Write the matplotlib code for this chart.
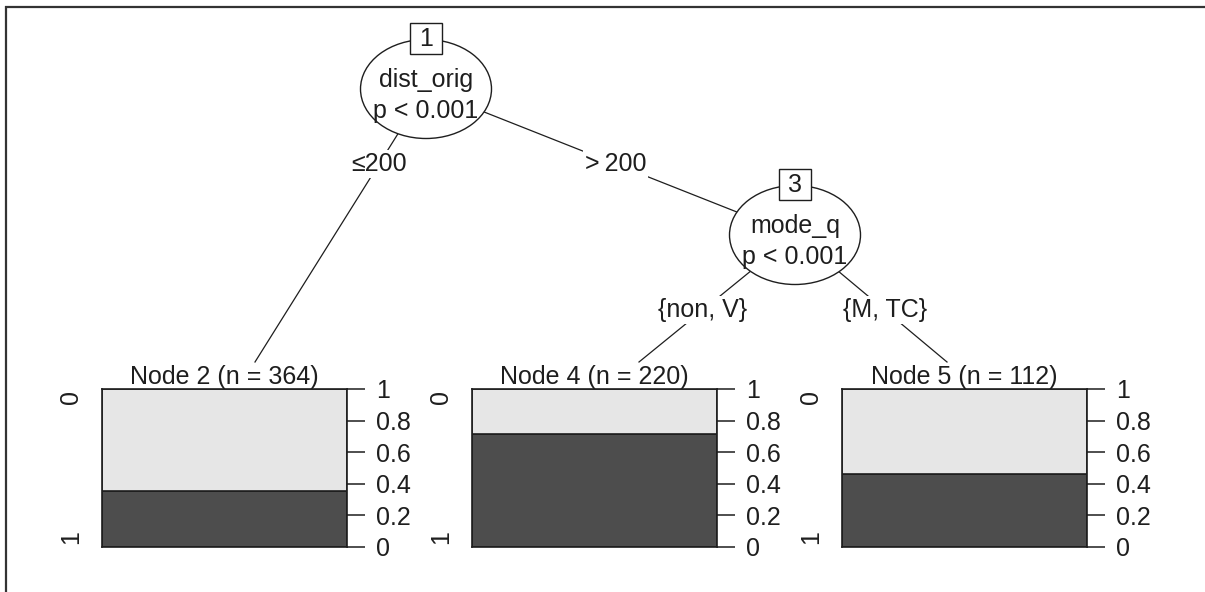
import matplotlib
matplotlib.use('Agg')
import matplotlib.pyplot as plt
from matplotlib.patches import Ellipse, Rectangle

plt.rcParams['font.family'] = ['Liberation Sans', 'DejaVu Sans']

# inner nodes of the conditional inference tree
inner_ids = [1, 3]
inner_vars = ['dist_orig', 'mode_q']
inner_pvals = ['p < 0.001', 'p < 0.001']

# edges: (parent, child, label)
edge_parent = [1, 1, 3, 3]
edge_child = [2, 3, 4, 5]
edge_labels = ['\u2264200', '>\u2009200', '{non, V}', '{M, TC}']

# terminal nodes
term_ids = [2, 4, 5]
term_n = [364, 220, 112]
prop_1 = [0.354, 0.714, 0.464]   # share of class "1" (dark)
classes = ['0', '1']
yticks = [0, 0.2, 0.4, 0.6, 0.8, 1]
ytick_labels = ['0', '0.2', '0.4', '0.6', '0.8', '1']

# layout in pixels (figure 1205 x 592)
W, H = 1205, 592
inner_xy = {1: (426, 89), 3: (795, 235)}
label_y = {1: 164, 3: 310}
term_top = {2: (255, 362), 4: (639, 362), 5: (947, 362)}
panel_x = {2: (102, 347), 4: (472, 717), 5: (842, 1087)}
panel_y = (389, 547)

light, dark = '#e6e6e6', '#4d4d4d'
ink = '#1e1e1e'
fs = 18

fig = plt.figure(figsize=(W / 100, H / 100), dpi=100)
ax = fig.add_axes([0, 0, 1, 1])
ax.set_xlim(0, W)
ax.set_ylim(H, 0)
ax.axis('off')

# frame (top and left only visible)
ax.plot([5, W], [6.5, 6.5], color='#333333', lw=1.6, solid_capstyle='butt')
ax.plot([5.5, 5.5], [6, H], color='#333333', lw=1.6, solid_capstyle='butt')

# edges with labels
for p, c, lab in zip(edge_parent, edge_child, edge_labels):
    px, py = inner_xy[p]
    cx, cy = inner_xy[c] if c in inner_xy else term_top[c]
    ax.plot([px, cx], [py, cy], color=ink, lw=0.9, zorder=1)
    ly = label_y[p]
    lx = px + (ly - py) * (cx - px) / (cy - py)
    ax.text(lx, ly, lab, fontsize=fs, color=ink, ha='center', va='center', zorder=3,
            bbox=dict(facecolor='white', edgecolor='none', pad=1.5))

# inner nodes
for nid, var, pv in zip(inner_ids, inner_vars, inner_pvals):
    x, y = inner_xy[nid]
    ax.add_patch(Ellipse((x, y), 131, 99, facecolor='white', edgecolor=ink, lw=1.0, zorder=2))
    ax.text(x, y - 2, var, fontsize=fs, color=ink, ha='center', va='baseline', zorder=4)
    ax.text(x, y + 29, pv, fontsize=fs, color=ink, ha='center', va='baseline', zorder=4)
    ax.add_patch(Rectangle((x - 16, y - 66), 32, 31, facecolor='white', edgecolor=ink,
                           lw=1.0, zorder=4))
    ax.text(x, y - 50, str(nid), fontsize=fs, color=ink, ha='center', va='center', zorder=5)

# terminal nodes: stacked bar panels
for nid, n, p1 in zip(term_ids, term_n, prop_1):
    x0, x1 = panel_x[nid]
    y0, y1 = panel_y
    pax = fig.add_axes([x0 / W, (H - y1) / H, (x1 - x0) / W, (y1 - y0) / H])
    pax.bar([0.5], [p1], width=1, color=dark, edgecolor=ink, lw=1.2)
    pax.bar([0.5], [1 - p1], bottom=[p1], width=1, color=light, edgecolor=ink, lw=1.2)
    pax.set_xlim(0, 1)
    pax.set_ylim(0, 1)
    pax.set_xticks([])
    pax.yaxis.tick_right()
    pax.set_yticks(yticks)
    pax.set_yticklabels(ytick_labels)
    pax.tick_params(axis='y', direction='out', length=13, width=1.1, pad=8,
                    labelsize=fs, colors=ink)
    for s in pax.spines.values():
        s.set_linewidth(1.2)
        s.set_color(ink)
    pax.set_title(f'Node {nid} (n = {n})', fontsize=fs, color=ink, pad=3)
    pax.text(-0.127, (y1 - 397) / (y1 - y0), classes[0], transform=pax.transAxes,
             rotation=90, fontsize=fs, color=ink, ha='center', va='center')
    pax.text(-0.127, (y1 - 537) / (y1 - y0), classes[1], transform=pax.transAxes,
             rotation=90, fontsize=fs, color=ink, ha='center', va='center')

fig.savefig('out.png', dpi=100)
